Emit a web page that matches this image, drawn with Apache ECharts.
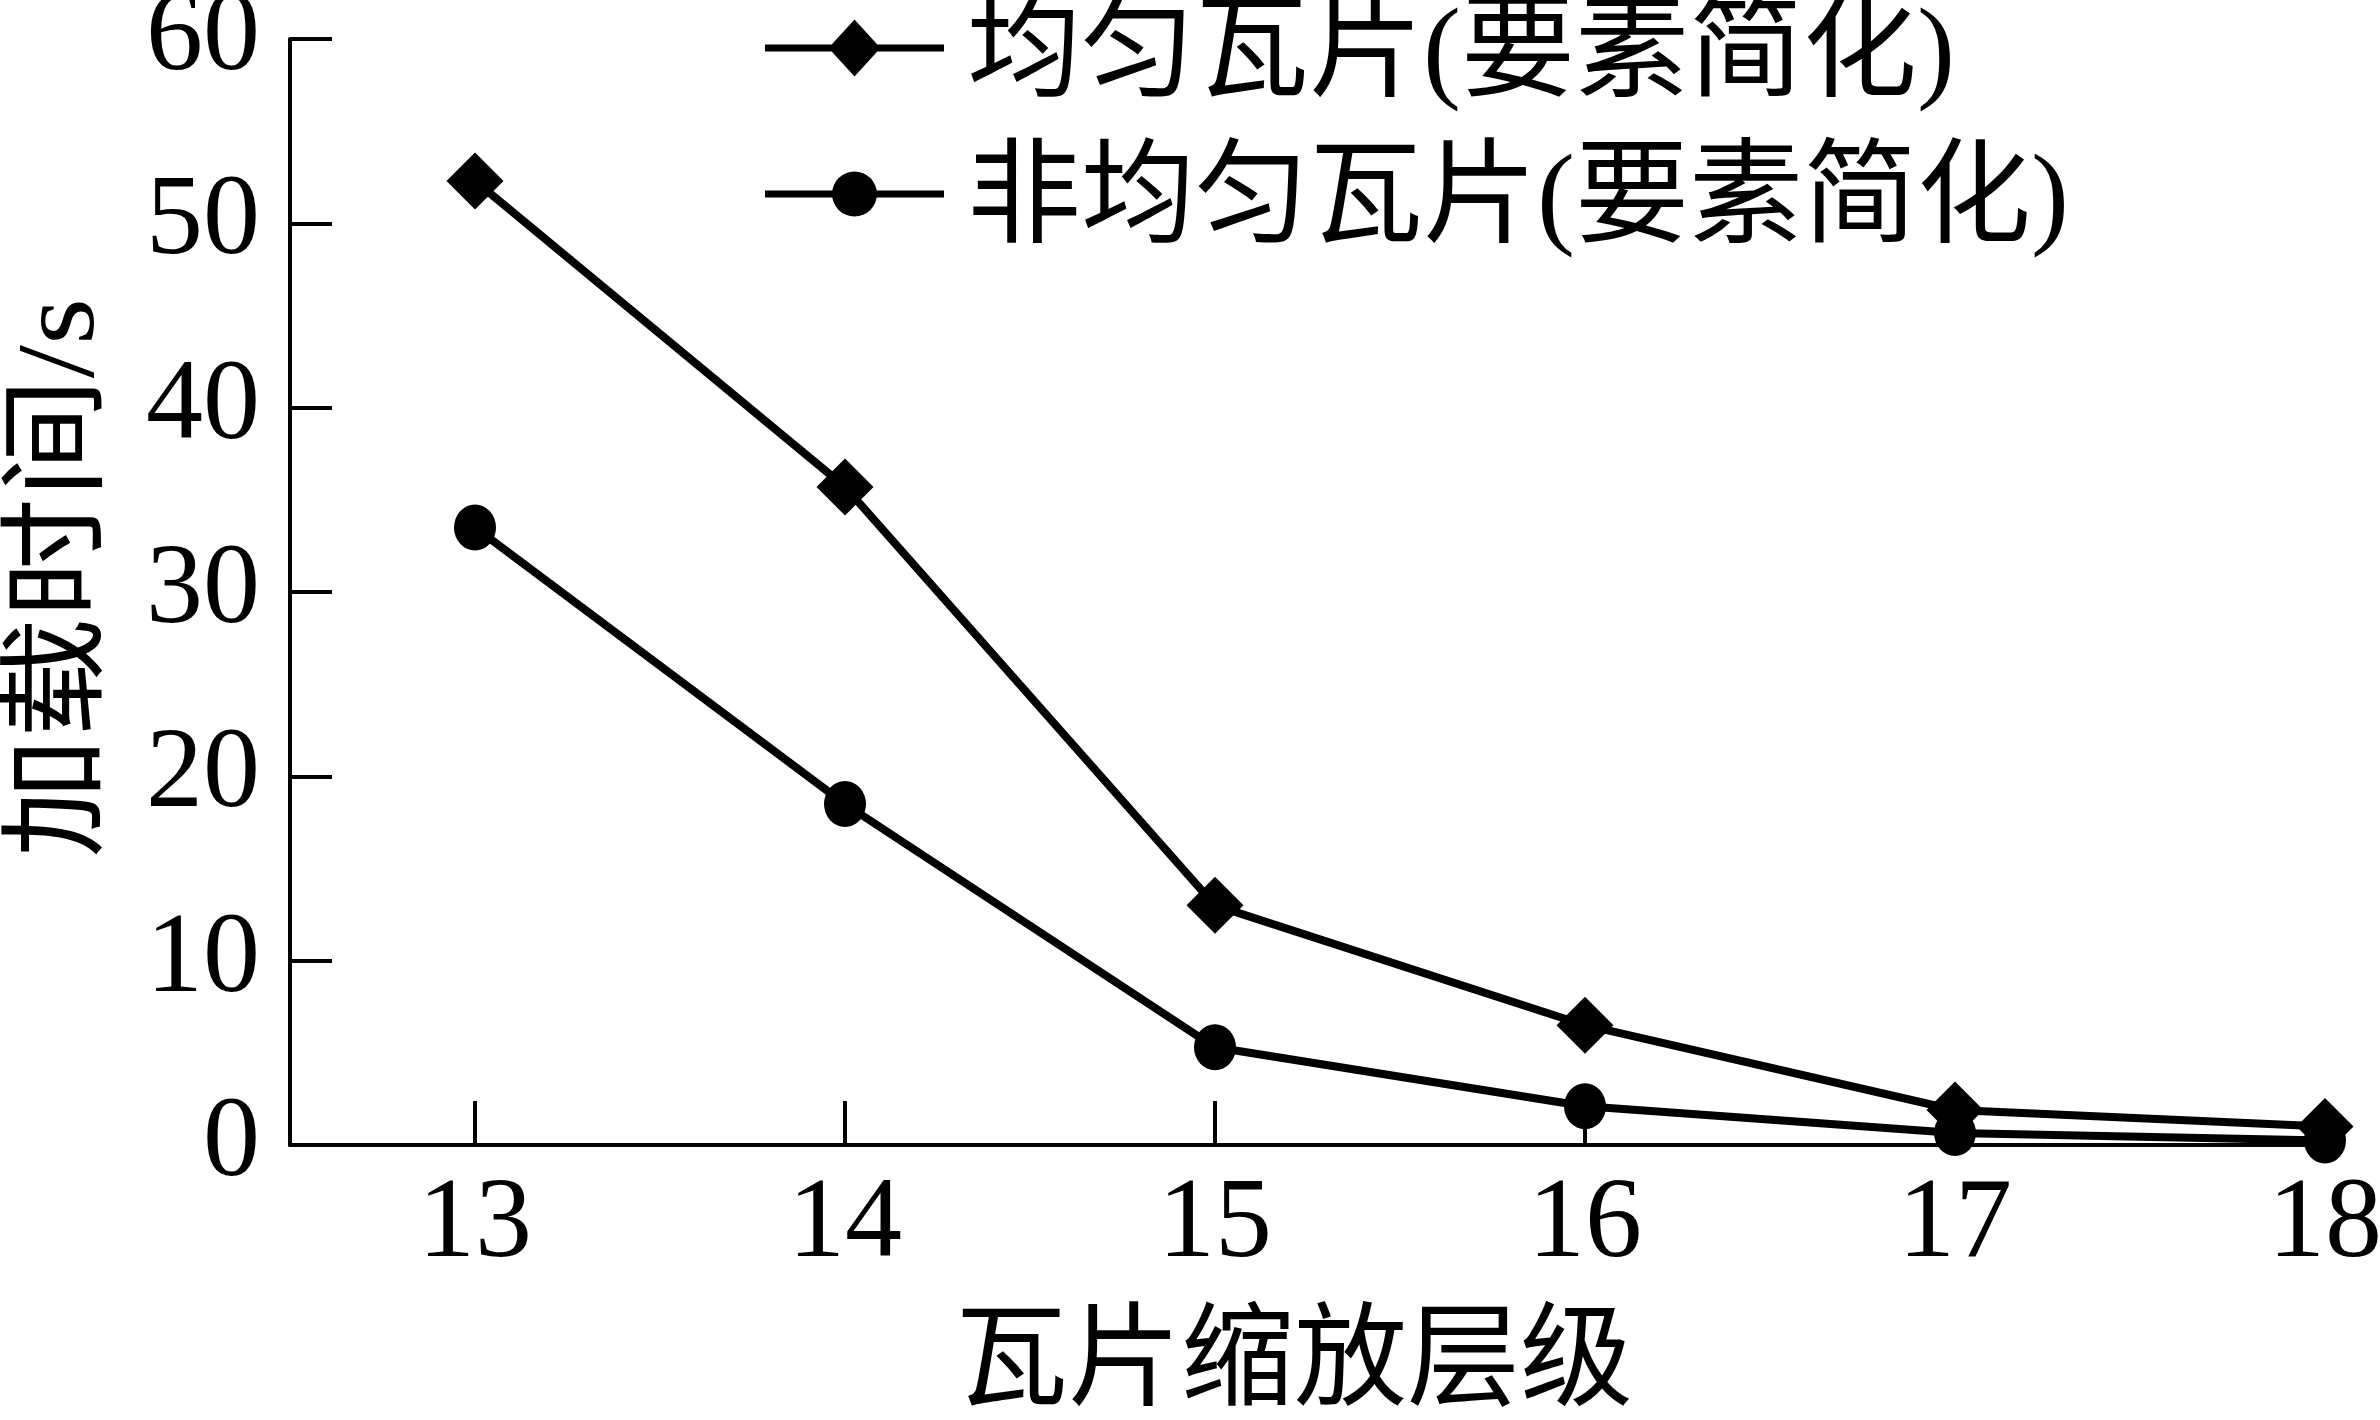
<!DOCTYPE html>
<html>
<head>
<meta charset="utf-8">
<script src="https://cdn.jsdelivr.net/npm/echarts@6/dist/echarts.min.js"></script>
<style>
html,body{margin:0;padding:0;background:#fff;}
#chart{width:2380px;height:1420px;}
</style>
</head>
<body>
<div id="chart"></div>
<script>
// ---- data ----
var zoomLevels = [13, 14, 15, 16, 17, 18];
var uniformTiles = [52.3, 35.7, 13.0, 6.5, 1.9, 1.0];
var nonUniformTiles = [33.5, 18.5, 5.3, 2.1, 0.65, 0.25];
var seriesNames = ['均匀瓦片(要素简化)', '非均匀瓦片(要素简化)'];
var yTicks = [0, 10, 20, 30, 40, 50, 60];
var xTitle = '瓦片缩放层级';
var yTitle = '加载时间/s';

var FONT = "'Liberation Serif', 'Times New Roman', 'Noto Sans CJK SC', serif";

// legend icons: line with marker; an empty sub-path at the bottom keeps the
// marker slightly above the text centre, as in the original figure
var ICON_DIAMOND = 'path://M0,25H179V32H0Z M89.5,0L115.5,28.5L89.5,57L63.5,28.5Z M89.5,75Z';
var ICON_CIRCLE = 'path://M0,25H179V32H0Z M67,28.5A22.5,22.5 0 1,1 112,28.5A22.5,22.5 0 1,1 67,28.5Z M89.5,0Z M89.5,75Z';

function pairs(xs, ys) {
  return xs.map(function (x, i) { return [x, ys[i]]; });
}

var chart = echarts.init(document.getElementById('chart'), null, {renderer: 'canvas'});

var option = {
  backgroundColor: '#fff',
  animation: false,
  grid: {left: 290, right: 55, top: 39, bottom: 275, containLabel: false, outerBoundsMode: 'none'},
  legend: {
    orient: 'vertical',
    left: 760,
    top: -5,
    itemWidth: 179,
    itemHeight: 75,
    itemGap: 32,
    data: [
      {name: seriesNames[0], icon: ICON_DIAMOND},
      {name: seriesNames[1], icon: ICON_CIRCLE}
    ],
    textStyle: {
      fontFamily: FONT,
      fontSize: 114,
      color: '#000',
      padding: [0, 0, 0, 18]
    }
  },
  xAxis: {
    type: 'value',
    min: zoomLevels[0] - 0.5,
    max: zoomLevels[zoomLevels.length - 1],
    splitLine: {show: false},
    axisLine: {show: true, onZero: false, lineStyle: {color: '#000', width: 4}},
    axisTick: {show: true, inside: true, length: 44, customValues: zoomLevels, lineStyle: {color: '#000', width: 4}},
    axisLabel: {
      customValues: zoomLevels,
      margin: 24,
      fontFamily: FONT,
      fontSize: 114,
      color: '#000'
    }
  },
  yAxis: {
    type: 'value',
    min: yTicks[0],
    max: yTicks[yTicks.length - 1],
    interval: 10,
    splitLine: {show: false},
    axisLine: {show: true, lineStyle: {color: '#000', width: 4}},
    axisTick: {show: true, inside: true, length: 42, lineStyle: {color: '#000', width: 4}},
    axisLabel: {
      margin: 30,
      fontFamily: FONT,
      fontSize: 114,
      color: '#000'
    }
  },
  graphic: [
    {
      type: 'text',
      x: 1294, y: 1366,
      style: {
        text: xTitle,
        fontFamily: FONT,
        fontSize: 113,
        fill: '#000',
        align: 'center',
        verticalAlign: 'middle'
      }
    },
    {
      type: 'text',
      x: 64, y: 578,
      rotation: Math.PI / 2,
      scaleX: 1.09,
      style: {
        text: yTitle,
        fontFamily: FONT,
        fontSize: 110,
        fill: '#000',
        align: 'center',
        verticalAlign: 'middle'
      }
    }
  ],
  series: [
    {
      name: seriesNames[0],
      type: 'line',
      data: pairs(zoomLevels, uniformTiles),
      symbol: 'diamond',
      symbolSize: 57,
      z: 3,
      itemStyle: {color: '#000'},
      lineStyle: {color: '#000', width: 8}
    },
    {
      name: seriesNames[1],
      type: 'line',
      data: pairs(zoomLevels, nonUniformTiles),
      symbol: 'circle',
      symbolSize: [42, 46],
      z: 2,
      itemStyle: {color: '#000'},
      lineStyle: {color: '#000', width: 8}
    }
  ]
};
chart.setOption(option);
</script>
</body>
</html>
